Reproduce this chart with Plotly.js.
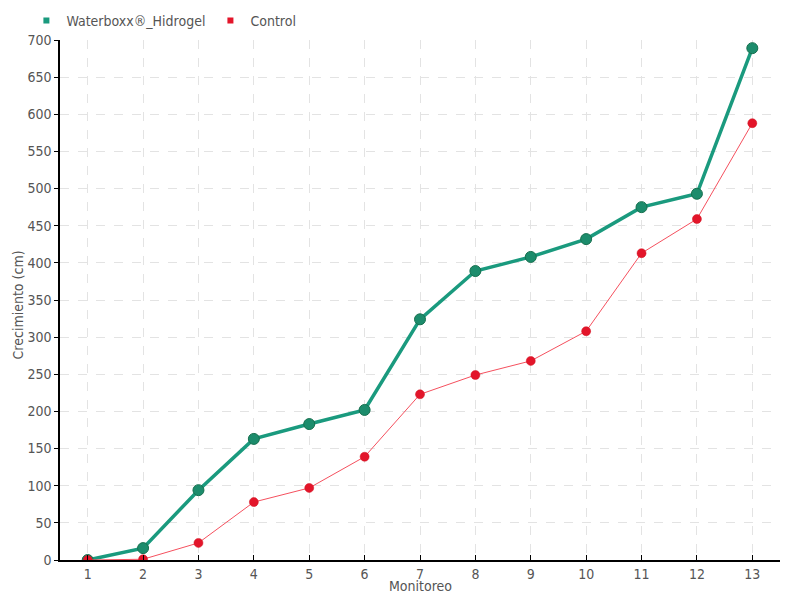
<!DOCTYPE html>
<html>
<head>
<meta charset="utf-8">
<script src="https://cdn.plot.ly/plotly-3.0.1.min.js"></script>
<style>html,body{margin:0;padding:0;background:#fff}#chart{width:800px;height:600px}</style>
</head>
<body>
<div id="chart"></div>
<script>
var monitoreo = [1,2,3,4,5,6,7,8,9,10,11,12,13];
var waterboxx = [0,16,94,163,183,202,324,389,408,432,475,493,689];
var control = [0,1,23,78,97,139,223,249,268,308,413,459,588];
var seriesNames = ["Waterboxx®_Hidrogel", "Control"];
var seriesColors = ['#1a9a7e', '#e3152a'];
var xTitle = 'Monitoreo';
var yTitle = 'Crecimiento (cm)';

var font = "'DejaVu Sans Condensed', 'Liberation Sans Narrow', sans-serif";

var traces = [
  {
    x: monitoreo, y: waterboxx, name: seriesNames[0], type: 'scatter', mode: 'lines+markers',
    showlegend: false,
    line: {color: '#1a9a7e', width: 3.5},
    marker: {color: '#1c8c6c', size: 11, line: {color: '#17704f', width: 1}}
  },
  {
    x: monitoreo, y: control, name: seriesNames[1], type: 'scatter', mode: 'lines+markers',
    showlegend: false,
    line: {color: '#f5505e', width: 1},
    marker: {color: '#e3152a', size: 9, line: {color: '#d0101f', width: 0.5}}
  },
  {
    x: [null], y: [null], name: seriesNames[0], type: 'scatter', mode: 'markers',
    marker: {color: seriesColors[0], symbol: 'square', size: 6}
  },
  {
    x: [null], y: [null], name: seriesNames[1], type: 'scatter', mode: 'markers',
    marker: {color: seriesColors[1], symbol: 'square', size: 6}
  }
];

var layout = {
  width: 800, height: 600,
  margin: {l: 60, r: 20, t: 40, b: 40, autoexpand: false},
  paper_bgcolor: '#fff', plot_bgcolor: '#fff',
  font: {family: font, color: '#555', size: 14},
  showlegend: true,
  legend: {orientation: 'h', x: 0.033, y: 0.965, xref: 'container', yref: 'container',
           xanchor: 'left', yanchor: 'middle',
           font: {size: 14, color: '#555'}, itemwidth: 10, tracegroupgap: 0,
           bgcolor: 'rgba(0,0,0,0)'},
  xaxis: {
    type: 'linear', range: [0.5, 13.5], tickvals: monitoreo, ticktext: monitoreo.map(String),
    showline: true, linecolor: '#000', linewidth: 1.5,
    ticks: 'inside', ticklen: 5, tickcolor: '#000',
    showgrid: true, gridcolor: '#e3e3e3', griddash: 'dash', gridwidth: 1,
    zeroline: false,
    tickfont: {size: 14, color: '#555'}
  },
  yaxis: {
    range: [0, 700], dtick: 50,
    showline: true, linecolor: '#000', linewidth: 1.5,
    ticks: 'outside', ticklen: 4, tickcolor: '#000',
    showgrid: true, gridcolor: '#e3e3e3', griddash: 'dash', gridwidth: 1,
    zeroline: false,
    tickfont: {size: 14, color: '#555'}
  },
  annotations: [
    {text: xTitle, xref: 'paper', yref: 'paper', x: 0.5, y: -0.05,
     xanchor: 'center', yanchor: 'middle', showarrow: false,
     font: {size: 14, color: '#555'}},
    {text: yTitle, xref: 'paper', yref: 'paper', x: -0.058, y: 0.49,
     xanchor: 'center', yanchor: 'middle', showarrow: false, textangle: -90,
     font: {size: 14, color: '#555'}}
  ]
};

Plotly.newPlot('chart', traces, layout, {displayModeBar: false});
</script>
</body>
</html>
